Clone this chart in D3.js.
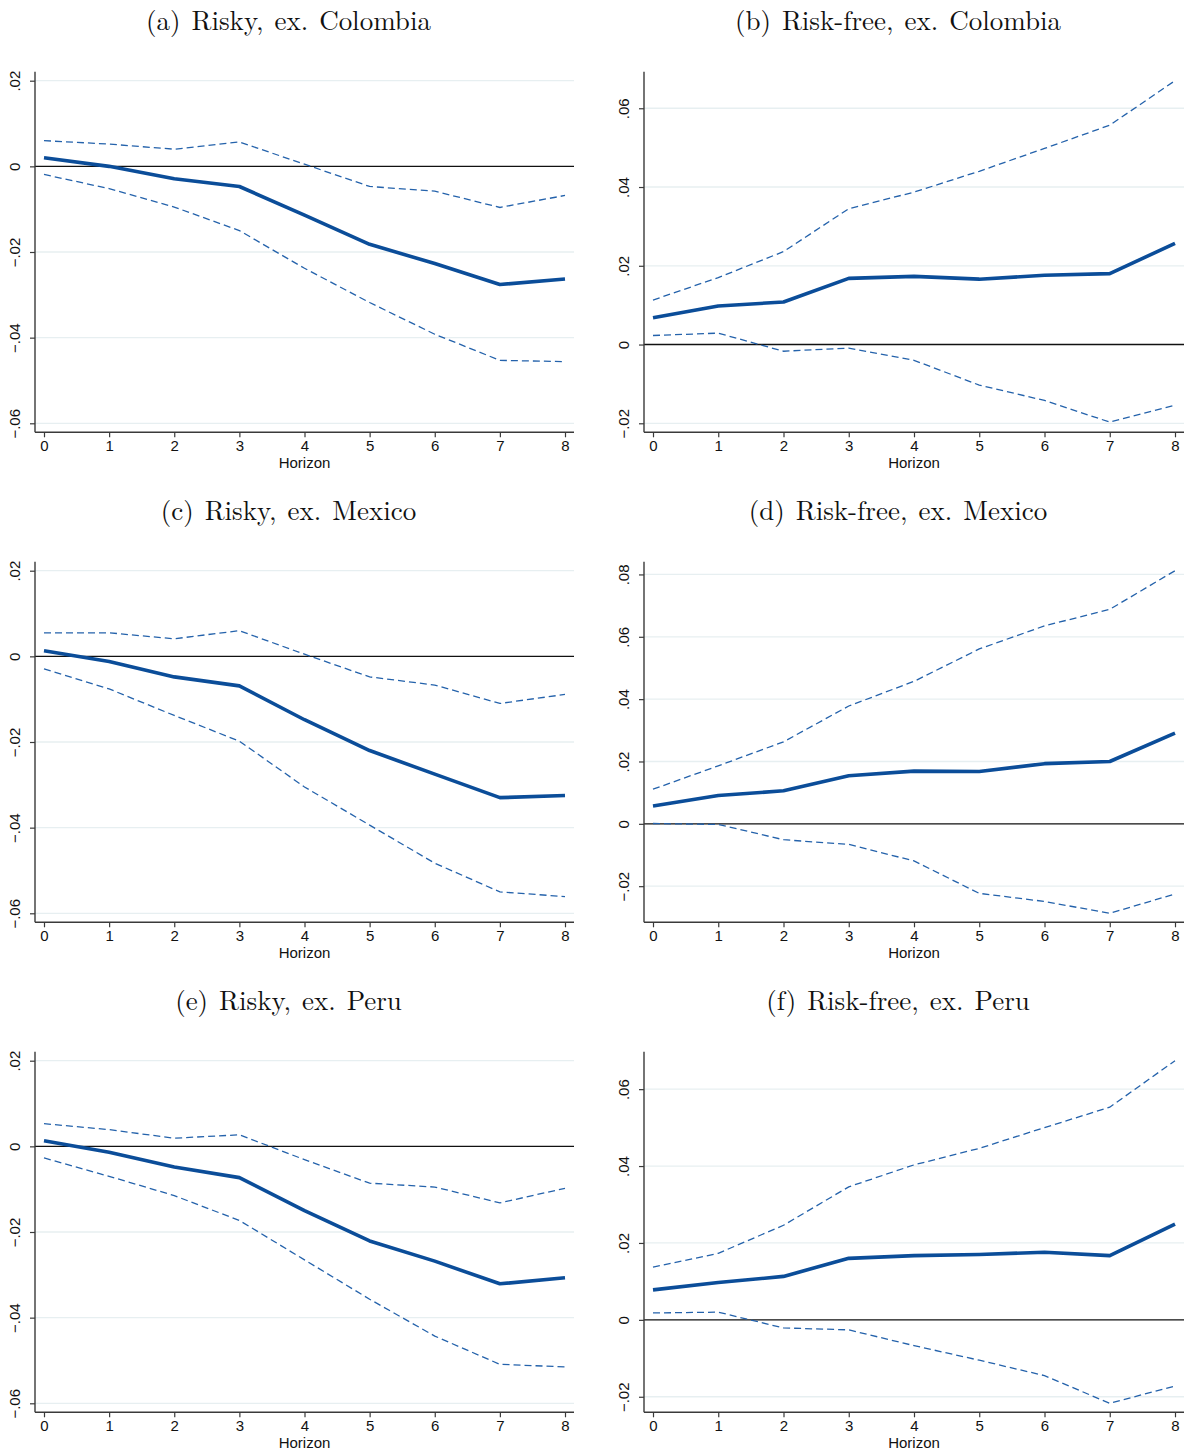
<!DOCTYPE html>
<html>
<head>
<meta charset="utf-8">
<script src="https://cdn.jsdelivr.net/npm/d3@7"></script>
<style>
  html, body { margin: 0; padding: 0; background: #fff; }
  svg { display: block; }
</style>
</head>
<body>
<svg id="chart" width="1185" height="1453"></svg>
<script>
// Horizon (periods after the shock)
const horizon = [0, 1, 2, 3, 4, 5, 6, 7, 8];

// (a) Risky, ex. Colombia
const riskyExColombia      = [0.0020, 0.0000, -0.0029, -0.0047, -0.0114, -0.0182, -0.0227, -0.0276, -0.0263];
const riskyExColombiaUpper = [0.0060, 0.0052, 0.0040, 0.0057, 0.0005, -0.0047, -0.0058, -0.0096, -0.0068];
const riskyExColombiaLower = [-0.0019, -0.0052, -0.0095, -0.0150, -0.0238, -0.0318, -0.0392, -0.0453, -0.0456];

// (b) Risk-free, ex. Colombia
const riskFreeExColombia      = [0.0068, 0.0098, 0.0108, 0.0168, 0.0173, 0.0166, 0.0176, 0.0180, 0.0257];
const riskFreeExColombiaUpper = [0.0113, 0.0170, 0.0236, 0.0345, 0.0387, 0.0440, 0.0498, 0.0557, 0.0670];
const riskFreeExColombiaLower = [0.0023, 0.0029, -0.0017, -0.0009, -0.0040, -0.0103, -0.0142, -0.0197, -0.0154];

// (c) Risky, ex. Mexico
const riskyExMexico      = [0.0013, -0.0012, -0.0048, -0.0069, -0.0148, -0.0220, -0.0275, -0.0330, -0.0325];
const riskyExMexicoUpper = [0.0055, 0.0055, 0.0041, 0.0060, 0.0005, -0.0048, -0.0067, -0.0110, -0.0089];
const riskyExMexicoLower = [-0.0029, -0.0076, -0.0138, -0.0198, -0.0305, -0.0394, -0.0483, -0.0550, -0.0561];

// (d) Risk-free, ex. Mexico
const riskFreeExMexico      = [0.0057, 0.0091, 0.0106, 0.0154, 0.0169, 0.0168, 0.0193, 0.0200, 0.0291];
const riskFreeExMexicoUpper = [0.0111, 0.0186, 0.0263, 0.0378, 0.0457, 0.0561, 0.0635, 0.0688, 0.0812];
const riskFreeExMexicoLower = [0.0001, -0.0002, -0.0051, -0.0066, -0.0119, -0.0223, -0.0249, -0.0287, -0.0225];

// (e) Risky, ex. Peru
const riskyExPeru      = [0.0013, -0.0014, -0.0048, -0.0073, -0.0150, -0.0221, -0.0268, -0.0321, -0.0307];
const riskyExPeruUpper = [0.0053, 0.0039, 0.0019, 0.0027, -0.0031, -0.0086, -0.0095, -0.0132, -0.0098];
const riskyExPeruLower = [-0.0027, -0.0070, -0.0115, -0.0173, -0.0265, -0.0357, -0.0443, -0.0509, -0.0515];

// (f) Risk-free, ex. Peru
const riskFreeExPeru      = [0.0078, 0.0097, 0.0113, 0.0160, 0.0167, 0.0170, 0.0176, 0.0167, 0.0249];
const riskFreeExPeruUpper = [0.0137, 0.0173, 0.0246, 0.0346, 0.0403, 0.0446, 0.0500, 0.0553, 0.0674];
const riskFreeExPeruLower = [0.0018, 0.0020, -0.0021, -0.0026, -0.0067, -0.0105, -0.0145, -0.0217, -0.0172];

// Y-axis tick values
const riskyTicks       = [-0.06, -0.04, -0.02, 0, 0.02];
const riskFreeTicks    = [-0.02, 0, 0.02, 0.04, 0.06];
const riskFreeMexTicks = [-0.02, 0, 0.02, 0.04, 0.06, 0.08];

// Panel titles
const panelTitles = [
  "(a) Risky, ex. Colombia", "(b) Risk-free, ex. Colombia",
  "(c) Risky, ex. Mexico",   "(d) Risk-free, ex. Mexico",
  "(e) Risky, ex. Peru",     "(f) Risk-free, ex. Peru"
];
const xAxisTitle = "Horizon";

const panels = [
  { title: panelTitles[0], mid: riskyExColombia,    hi: riskyExColombiaUpper,    lo: riskyExColombiaLower,    ticks: riskyTicks },
  { title: panelTitles[1], mid: riskFreeExColombia, hi: riskFreeExColombiaUpper, lo: riskFreeExColombiaLower, ticks: riskFreeTicks },
  { title: panelTitles[2], mid: riskyExMexico,      hi: riskyExMexicoUpper,      lo: riskyExMexicoLower,      ticks: riskyTicks },
  { title: panelTitles[3], mid: riskFreeExMexico,   hi: riskFreeExMexicoUpper,   lo: riskFreeExMexicoLower,   ticks: riskFreeMexTicks },
  { title: panelTitles[4], mid: riskyExPeru,        hi: riskyExPeruUpper,        lo: riskyExPeruLower,        ticks: riskyTicks },
  { title: panelTitles[5], mid: riskFreeExPeru,     hi: riskFreeExPeruUpper,     lo: riskFreeExPeruLower,     ticks: riskFreeTicks }
];

// Layout
const colGeom = [
  { axisX: 35,  right: 574,  titleX: 288.5 },
  { axisX: 644, right: 1184, titleX: 898 }
];
const rowStep = 490;
const plotTop = 71.7, plotBottom = 432.3;
const pad = 9;

const mainColor = "#0b4d99";
const ciColor = "#2462ab";
const axisColor = "#3a3a3a";
const gridColor = "#e7eff1";
const tickFont = "'Liberation Sans', Arial, Helvetica, sans-serif";
const titleFont = "'Latin Modern Roman', 'CMU Serif', 'DejaVu Serif', 'Liberation Serif', serif";

const fmtTick = v => {
  if (Math.abs(v) < 1e-12) return "0";
  const s = d3.format(".2f")(Math.abs(v)).replace(/^0/, "");
  return (v < 0 ? "\u2212" : "") + s;
};

const svg = d3.select("#chart");

panels.forEach((p, i) => {
  const col = colGeom[i % 2];
  const row = Math.floor(i / 2);
  const top = plotTop + row * rowStep;
  const bottom = plotBottom + row * rowStep;

  const g = svg.append("g");

  const x = d3.scaleLinear()
    .domain(d3.extent(horizon))
    .range([col.axisX + pad, col.right - pad]);

  const allVals = p.ticks.concat(p.mid, p.hi, p.lo);
  const y = d3.scaleLinear()
    .domain(d3.extent(allVals))
    .range([bottom - pad, top + pad]);

  // Title
  g.append("text")
    .attr("x", col.titleX)
    .attr("y", 30 + row * rowStep)
    .attr("text-anchor", "middle")
    .attr("font-family", titleFont)
    .attr("font-size", 27)
    .attr("word-spacing", 2)
    .attr("fill", "#111")
    .text(p.title);

  // Horizontal gridlines
  g.append("g")
    .selectAll("line")
    .data(p.ticks.filter(t => t !== 0))
    .join("line")
    .attr("x1", col.axisX)
    .attr("x2", col.right)
    .attr("y1", d => y(d))
    .attr("y2", d => y(d))
    .attr("stroke", gridColor)
    .attr("stroke-width", 1.3);

  // Reference line at zero
  g.append("line")
    .attr("x1", col.axisX)
    .attr("x2", col.right)
    .attr("y1", y(0))
    .attr("y2", y(0))
    .attr("stroke", "#111")
    .attr("stroke-width", 1.4);

  // Confidence bands (dashed) and point estimate
  const line = d3.line()
    .x((d, k) => x(horizon[k]))
    .y(d => y(d));

  [p.hi, p.lo].forEach(band => {
    g.append("path")
      .datum(band)
      .attr("d", line)
      .attr("fill", "none")
      .attr("stroke", ciColor)
      .attr("stroke-width", 1.3)
      .attr("stroke-dasharray", "7,4");
  });

  g.append("path")
    .datum(p.mid)
    .attr("d", line)
    .attr("fill", "none")
    .attr("stroke", mainColor)
    .attr("stroke-width", 3.6)
    .attr("stroke-linejoin", "round");

  // Y axis
  const yAxis = d3.axisLeft(y)
    .tickValues(p.ticks)
    .tickSize(5)
    .tickPadding(6)
    .tickFormat(fmtTick);
  const ya = g.append("g")
    .attr("transform", `translate(${col.axisX},0)`)
    .call(yAxis);
  ya.select(".domain")
    .attr("d", `M0,${top}V${bottom}`)
    .attr("stroke", axisColor)
    .attr("stroke-width", 1.4);
  ya.selectAll(".tick line").attr("stroke", axisColor).attr("stroke-width", 1.2);
  ya.selectAll(".tick text")
    .attr("font-family", tickFont)
    .attr("font-size", 15)
    .attr("fill", "#111")
    .attr("text-anchor", "middle")
    .attr("x", 0)
    .attr("dy", 0)
    .attr("transform", "translate(-15,0) rotate(-90)")
    .attr("dominant-baseline", "auto");

  // X axis
  const xAxis = d3.axisBottom(x)
    .tickValues(horizon)
    .tickSize(5)
    .tickPadding(3)
    .tickFormat(d3.format("d"));
  const xa = g.append("g")
    .attr("transform", `translate(0,${bottom})`)
    .call(xAxis);
  xa.select(".domain")
    .attr("d", `M${col.axisX},0H${col.right}`)
    .attr("stroke", axisColor)
    .attr("stroke-width", 1.4);
  xa.selectAll(".tick line").attr("stroke", axisColor).attr("stroke-width", 1.2);
  xa.selectAll(".tick text")
    .attr("font-family", tickFont)
    .attr("font-size", 15)
    .attr("fill", "#111");

  // X axis title
  g.append("text")
    .attr("x", (col.axisX + col.right) / 2)
    .attr("y", bottom + 36)
    .attr("text-anchor", "middle")
    .attr("font-family", tickFont)
    .attr("font-size", 15)
    .attr("fill", "#111")
    .text(xAxisTitle);
});
</script>
</body>
</html>
